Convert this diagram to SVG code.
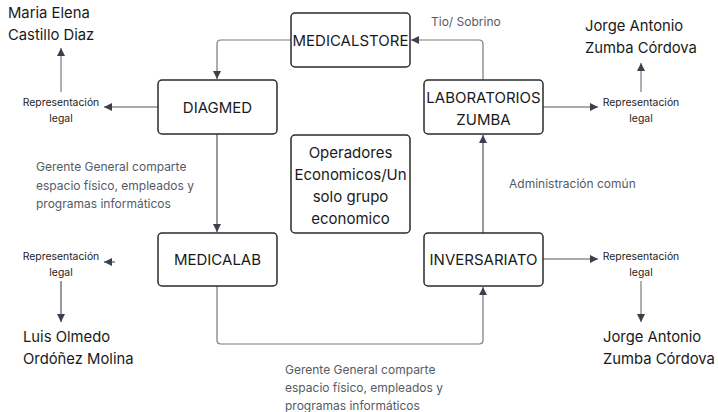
<svg xmlns="http://www.w3.org/2000/svg" width="718" height="412" viewBox="0 0 718 412">
<style>
.box{fill:#fff;stroke:#2b2b2b;stroke-width:1.5}
.bt{font-family:Inter,"Liberation Sans",Arial,sans-serif;font-size:15px;fill:#1a1a1a;text-anchor:middle}
.name{font-family:Inter,"Liberation Sans",Arial,sans-serif;font-size:14.8px;fill:#1a1a1a}
.small{font-family:Inter,"Liberation Sans",Arial,sans-serif;font-size:10.4px;fill:#222;text-anchor:middle}
.lbl{font-family:Inter,"Liberation Sans",Arial,sans-serif;font-size:12px;fill:#555b66}
.c{fill:none;stroke:#7a7a7a;stroke-width:1.2}
.d{fill:none;stroke:#555;stroke-width:1.2}
</style>
<defs>
<marker id="ah" viewBox="0 0 10 10" refX="10" refY="5" markerWidth="9" markerHeight="8" markerUnits="userSpaceOnUse" orient="auto">
<path d="M0,0 L10,5 L0,10 Z" fill="#3a404c"/>
</marker>
</defs>
<rect width="718" height="412" fill="#fff"/>
<g id="connectors">
<path class="c" d="M483,80 V44 Q483,40 479,40 H411" marker-end="url(#ah)"/>
<path class="c" d="M291,40 H221 Q217,40 217,44 V79" marker-end="url(#ah)"/>
<path class="d" d="M217,134 V232" marker-end="url(#ah)"/>
<path class="d" d="M483,233 V135" marker-end="url(#ah)"/>
<path class="c" d="M217,286 V340 Q217,344 221,344 H479 Q483,344 483,340 V287" marker-end="url(#ah)"/>
<path class="d" d="M158,107 H104" marker-end="url(#ah)"/>
<path class="c" d="M61,92 V48" marker-end="url(#ah)"/>
<path class="d" d="M115,262 H104" marker-end="url(#ah)"/>
<path class="d" d="M61,281 V322" marker-end="url(#ah)"/>
<path class="d" d="M543,107 H598" marker-end="url(#ah)"/>
<path class="c" d="M641,92 V63" marker-end="url(#ah)"/>
<path class="d" d="M543,259 H598" marker-end="url(#ah)"/>
<path class="c" d="M641,281 V322" marker-end="url(#ah)"/>
</g>
<g id="labels">
<text class="lbl" x="431" y="26">Tio/ Sobrino</text>
<text class="lbl" x="509" y="188">Administración común</text>
<text class="lbl" x="36" y="171">Gerente General comparte</text>
<text class="lbl" x="36" y="190">espacio físico, empleados y</text>
<text class="lbl" x="36" y="208">programas informáticos</text>
<text class="lbl" x="285" y="374">Gerente General comparte</text>
<text class="lbl" x="285" y="392">espacio físico, empleados y</text>
<text class="lbl" x="285" y="410">programas informáticos</text>
</g>
<g id="medicalstore"><rect class="box" x="291" y="13" width="119" height="54" rx="4"/><text class="bt" x="350.5" y="45.5">MEDICALSTORE</text></g>
<g id="diagmed"><rect class="box" x="158" y="80" width="119" height="54" rx="4"/><text class="bt" x="217.5" y="112.5">DIAGMED</text></g>
<g id="laboratorios"><rect class="box" x="424" y="80" width="119" height="54" rx="4"/><text class="bt" x="483.5" y="102.5">LABORATORIOS</text><text class="bt" x="483.5" y="124.5">ZUMBA</text></g>
<g id="operadores"><rect class="box" x="291" y="135" width="119" height="98" rx="4"/><text class="bt" x="350.5" y="157.5">Operadores</text><text class="bt" x="350.5" y="179.5">Economicos/Un</text><text class="bt" x="350.5" y="201.5">solo grupo</text><text class="bt" x="350.5" y="223.5">economico</text></g>
<g id="medicalab"><rect class="box" x="158" y="233" width="119" height="53" rx="4"/><text class="bt" x="217.5" y="265">MEDICALAB</text></g>
<g id="inversariato"><rect class="box" x="424" y="233" width="119" height="53" rx="4"/><text class="bt" x="483.5" y="265">INVERSARIATO</text></g>
<g id="rep1"><text class="small" x="61" y="106">Representación</text><text class="small" x="61" y="122">legal</text></g>
<g id="rep2"><text class="small" x="61" y="260">Representación</text><text class="small" x="61" y="276">legal</text></g>
<g id="rep3"><text class="small" x="641" y="106">Representación</text><text class="small" x="641" y="122">legal</text></g>
<g id="rep4"><text class="small" x="641" y="260">Representación</text><text class="small" x="641" y="276">legal</text></g>
<g id="maria"><text class="name" x="8" y="18">Maria Elena</text><text class="name" x="8" y="40">Castillo Diaz</text></g>
<g id="jorge1"><text class="name" x="585" y="31">Jorge Antonio</text><text class="name" x="585" y="53">Zumba Córdova</text></g>
<g id="luis"><text class="name" x="23" y="342">Luis Olmedo</text><text class="name" x="23" y="364">Ordóñez Molina</text></g>
<g id="jorge2"><text class="name" x="603" y="342">Jorge Antonio</text><text class="name" x="603" y="364">Zumba Córdova</text></g>
</svg>
